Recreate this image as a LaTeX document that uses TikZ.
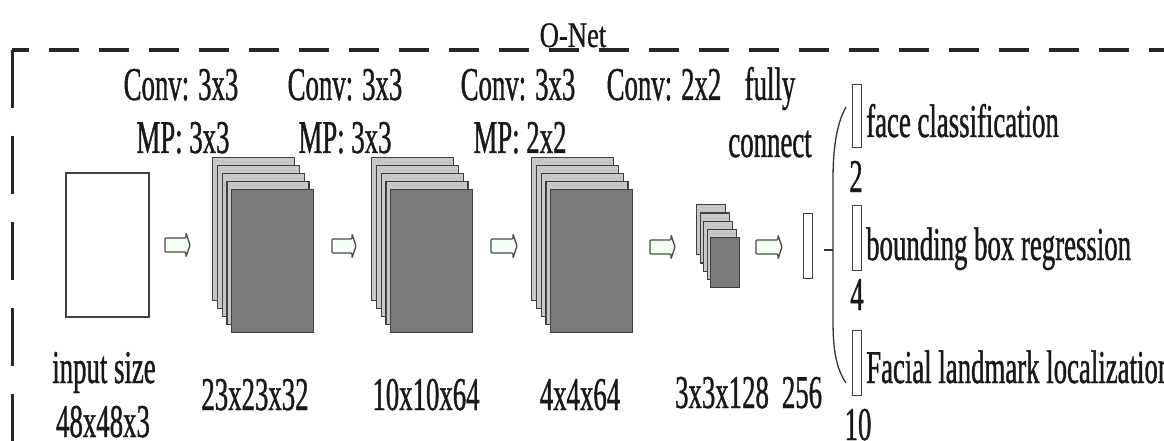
\documentclass[tikz,border=0pt]{standalone}
\usepackage{fontspec}
\setmainfont{Liberation Serif}[FakeStretch=0.57, FakeBold=0.8]
\newfontfamily\titlefont{Liberation Serif}[FakeStretch=0.74, FakeBold=0.6]
\tikzset{
  lbl/.style={inner sep=0pt, font=\fontsize{47}{56}\selectfont, text=black!90},
  ttl/.style={inner sep=0pt, font=\fontsize{36}{42}\titlefont, text=black!90},
  framet/.style={draw=black!85, line width=4pt, dash pattern=on 30pt off 20pt, dash phase=13pt},
  framel/.style={draw=black!85, line width=3pt, dash pattern=on 58pt off 28pt},
  inbox/.style={draw=black!75, line width=1.8pt, fill=white, inner sep=0pt, anchor=north west},
  backlayer/.style={draw=black!75, line width=1.3pt, fill=black!22, inner sep=0pt, anchor=north west},
  frontlayer/.style={draw=black!75, line width=1.3pt, fill=black!52, inner sep=0pt, anchor=north west},
  bigl/.style={minimum width=82pt, minimum height=143pt},
  smalll/.style={minimum width=29pt, minimum height=50pt},
  barbox/.style={draw=black!75, line width=1.4pt, fill=white, inner sep=0pt, anchor=north west, minimum width=9pt},
  blk/.style={draw=black!70, line width=1.3pt, fill=green!5!white, rounded corners=1pt},
  thinline/.style={draw=black!80, line width=1.3pt},
}
\newcommand\blockarrow[3]{%
  \draw[blk] (#1,#3-7) -- (#2-4,#3-7) -- (#2-4,#3-12) -- (#2,#3) -- (#2-4,#3+12) -- (#2-4,#3+7) -- (#1,#3+7) -- cycle;}
\begin{document}
\begin{tikzpicture}[x=1pt,y=-1pt]
\useasboundingbox (0,0) rectangle (1164,441);
\fill[white] (0,0) rectangle (1164,441);

% frame
\coordinate (fTL) at (12,50);
\coordinate (fTR) at (1180,50);
\coordinate (fBL) at (12,450);
\draw[framet] (fTL) -- (fTR);
\draw[framel] (fTL) -- (fBL);
\node[ttl, anchor=base] (title) at (573,47) {O-Net};

% input
\node[inbox, minimum width=83pt, minimum height=144pt] (in) at (65,172) {};

% stack 1
\foreach \i in {0,...,3} \node[backlayer, bigl] (s1b\i) at ({212+4.75*\i},{157+8*\i}) {};
\node[frontlayer, bigl] (s1) at (231,189) {};
% stack 2
\foreach \i in {0,...,3} \node[backlayer, bigl] (s2b\i) at ({371+4.75*\i},{157+8*\i}) {};
\node[frontlayer, bigl] (s2) at (390,189) {};
% stack 3
\foreach \i in {0,...,3} \node[backlayer, bigl] (s3b\i) at ({531+4.75*\i},{157+8*\i}) {};
\node[frontlayer, bigl] (s3) at (550,189) {};
% stack 4
\foreach \i in {0,...,3} \node[backlayer, smalll] (s4b\i) at ({696+3.5*\i},{204+8.25*\i}) {};
\node[frontlayer, smalll] (s4) at (710,237) {};

% fully connected bar
\node[barbox, minimum height=65pt] (fc) at (803,213) {};
\coordinate (t1) at (824,250);
\coordinate (t2) at (833,250);
\draw[thinline] (t1) -- (t2);

% brace
\coordinate (pTop) at (846,107);
\coordinate (pBot) at (846,383);
\draw[thinline] (pTop) .. controls (836,125) and (833,150) .. (833,180) -- (833,320) .. controls (833,350) and (836,368) .. (pBot);

% output bars
\node[barbox, minimum height=63pt] (o1) at (852,84) {};
\node[barbox, minimum height=65pt] (o2) at (852,205) {};
\node[barbox, minimum height=65pt] (o3) at (852,330) {};

% block arrows
\blockarrow{165}{190}{245}
\blockarrow{332}{356}{246}
\blockarrow{491}{517}{246}
\blockarrow{650}{675}{247}
\blockarrow{756}{782}{247}

% top labels
\node[lbl, anchor=base] (c1) at (181,100) {Conv: 3x3};
\node[lbl, anchor=base] (m1) at (183,153) {MP: 3x3};
\node[lbl, anchor=base] (c2) at (345,100) {Conv: 3x3};
\node[lbl, anchor=base] (m2) at (345,153) {MP: 3x3};
\node[lbl, anchor=base] (c3) at (518,100) {Conv: 3x3};
\node[lbl, anchor=base] (m3) at (520,153) {MP: 2x2};
\node[lbl, anchor=base] (c4) at (664,100) {Conv: 2x2};
\node[lbl, anchor=base] (fully) at (770,100) {fully};
\node[lbl, anchor=base] (connect) at (770,157) {connect};

% bottom labels
\node[lbl, anchor=base] (l0a) at (104,383) {input size};
\node[lbl, anchor=base] (l0b) at (103,437) {48x48x3};
\node[lbl, anchor=base] (l1) at (255,410) {23x23x32};
\node[lbl, anchor=base] (l2) at (426,410) {10x10x64};
\node[lbl, anchor=base] (l3) at (580,410) {4x4x64};
\node[lbl, anchor=base] (l4) at (722,408) {3x3x128};
\node[lbl, anchor=base] (l5) at (802,408) {256};

% outputs
\node[lbl, anchor=base west] (f1) at (866,137) {face classification};
\node[lbl, anchor=base west] (f2) at (866,260) {bounding box regression};
\node[lbl, anchor=base west] (f3) at (866,383) {Facial landmark localization};
\node[lbl, anchor=base] (n1) at (856,192) {2};
\node[lbl, anchor=base] (n2) at (857,310) {4};
\node[lbl, anchor=base] (n3) at (858,440) {10};
\end{tikzpicture}
\end{document}
